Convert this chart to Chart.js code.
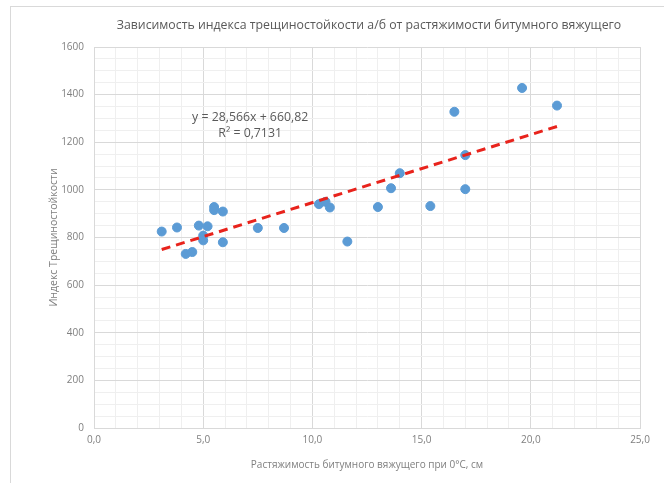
<!DOCTYPE html>
<html>
<head>
<meta charset="utf-8">
<script src="https://cdn.jsdelivr.net/npm/chart.js@4/dist/chart.umd.min.js"></script>
<style>
  html, body { margin: 0; padding: 0; background: #ffffff; }
  #wrap { width: 664px; height: 483px; position: relative; }
</style>
</head>
<body>
<div id="wrap"><canvas id="chart"></canvas></div>
<script>
// Растяжимость битумного вяжущего при 0°C, см
const extensibility = [3.1, 3.8, 4.2, 4.5, 4.8, 5.0, 5.0, 5.2, 5.5, 5.5, 5.9, 5.9,
  7.5, 8.7, 10.3, 10.6, 10.8, 11.6, 13.0, 13.6, 14.0, 15.4, 16.5, 17.0, 17.0, 19.6, 21.2];
// Индекс трещиностойкости
const crackIndex = [825, 842, 731, 739, 850, 808, 788, 847, 928, 915, 909, 780,
  840, 840, 940, 950, 926, 783, 928, 1007, 1070, 932, 1328, 1146, 1003, 1428, 1354];

// Линейный тренд (как подписан на графике)
const slope = 28.566;
const intercept = 660.82;
const rSquared = 0.7131;

const chartTitle = 'Зависимость индекса трещиностойкости а/б от растяжимости битумного вяжущего';
const xTitle = 'Растяжимость битумного вяжущего при 0°C, см';
const yTitle = 'Индекс Трещиностойкости';

const fmt = (v, d) => v.toFixed(d).replace('.', ',');

const xMin = Math.min(...extensibility);
const xMax = Math.max(...extensibility);
const trendPoints = [xMin, xMax].map(x => ({ x: x, y: slope * x + intercept }));
const scatterPoints = extensibility.map((x, i) => ({ x: x, y: crackIndex[i] }));

const FONT = '"Open Sans", sans-serif';
const GREY = '#7f7f7f';

// Рамка области диаграммы и заголовок над областью построения
const frame = {
  id: 'frame',
  beforeDraw(chart) {
    const c = chart.ctx;
    const area = chart.chartArea;
    c.save();
    c.strokeStyle = '#d9d9d9';
    c.lineWidth = 1;
    c.strokeRect(10.5, 6.5, 664, 483);
    c.font = '12.3px ' + FONT;
    c.fillStyle = '#595959';
    c.textAlign = 'center';
    c.textBaseline = 'middle';
    c.fillText(chartTitle, (area.left + area.right) / 2 + 2, area.top - 22);
    c.restore();
  }
};

// Подпись уравнения тренда
const equation = {
  id: 'equation',
  afterDatasetsDraw(chart) {
    const c = chart.ctx;
    const xs = chart.scales.x, ys = chart.scales.y;
    const px = xs.getPixelForValue(7.15);
    const py = ys.getPixelForValue(1305);
    c.save();
    c.font = '12.3px ' + FONT;
    c.fillStyle = '#595959';
    c.textAlign = 'center';
    c.textBaseline = 'middle';
    c.fillText('y = ' + fmt(slope, 3) + 'x + ' + fmt(intercept, 2), px, py);
    c.fillText('R² = ' + fmt(rSquared, 4), px, py + 16);
    c.restore();
  }
};

new Chart(document.getElementById('chart'), {
  type: 'scatter',
  data: {
    datasets: [
      {
        label: 'trend',
        type: 'line',
        data: trendPoints,
        borderColor: '#e8231c',
        borderWidth: 3,
        borderDash: [9, 6],
        pointRadius: 0,
        fill: false,
        order: 1
      },
      {
        label: 'points',
        data: scatterPoints,
        backgroundColor: '#5b9bd5',
        borderColor: '#5b9bd5',
        pointRadius: 4.5,
        pointHoverRadius: 4.5,
        order: 2
      }
    ]
  },
  options: {
    responsive: true,
    maintainAspectRatio: false,
    animation: false,
    layout: { padding: { left: 44, right: 24, top: 47, bottom: 8 } },
    plugins: {
      legend: { display: false },
      tooltip: { enabled: false },
      title: { display: false }
    },
    scales: {
      x: {
        type: 'linear',
        min: 0, max: 25,
        afterFit(s) { s.height = 47; },
        ticks: {
          stepSize: 1,
          autoSkip: false,
          maxRotation: 0,
          color: GREY,
          padding: 6,
          font: { family: FONT, size: 10 },
          callback: v => (v % 5 === 0 ? fmt(v, 1) : '')
        },
        grid: {
          drawTicks: false,
          color: ctx => (ctx.tick && ctx.tick.value % 5 === 0 ? '#d9d9d9' : '#efefef')
        },
        border: { color: '#d9d9d9' },
        title: {
          display: true,
          text: xTitle,
          color: GREY,
          font: { family: FONT, size: 10 },
          padding: { top: 16 }
        }
      },
      y: {
        type: 'linear',
        min: 0, max: 1600,
        afterFit(s) { s.width = 50; },
        ticks: {
          stepSize: 50,
          autoSkip: false,
          color: GREY,
          padding: 10,
          font: { family: FONT, size: 10 },
          callback: v => (v % 200 === 0 ? String(v) : '')
        },
        grid: {
          drawTicks: false,
          color: ctx => (ctx.tick && ctx.tick.value % 200 === 0 ? '#d9d9d9' : '#efefef')
        },
        border: { color: '#d9d9d9' },
        title: {
          display: true,
          text: yTitle,
          color: GREY,
          font: { family: FONT, size: 10.5 },
          padding: { bottom: 0 }
        }
      }
    }
  },
  plugins: [frame, equation]
});
</script>
</body>
</html>
